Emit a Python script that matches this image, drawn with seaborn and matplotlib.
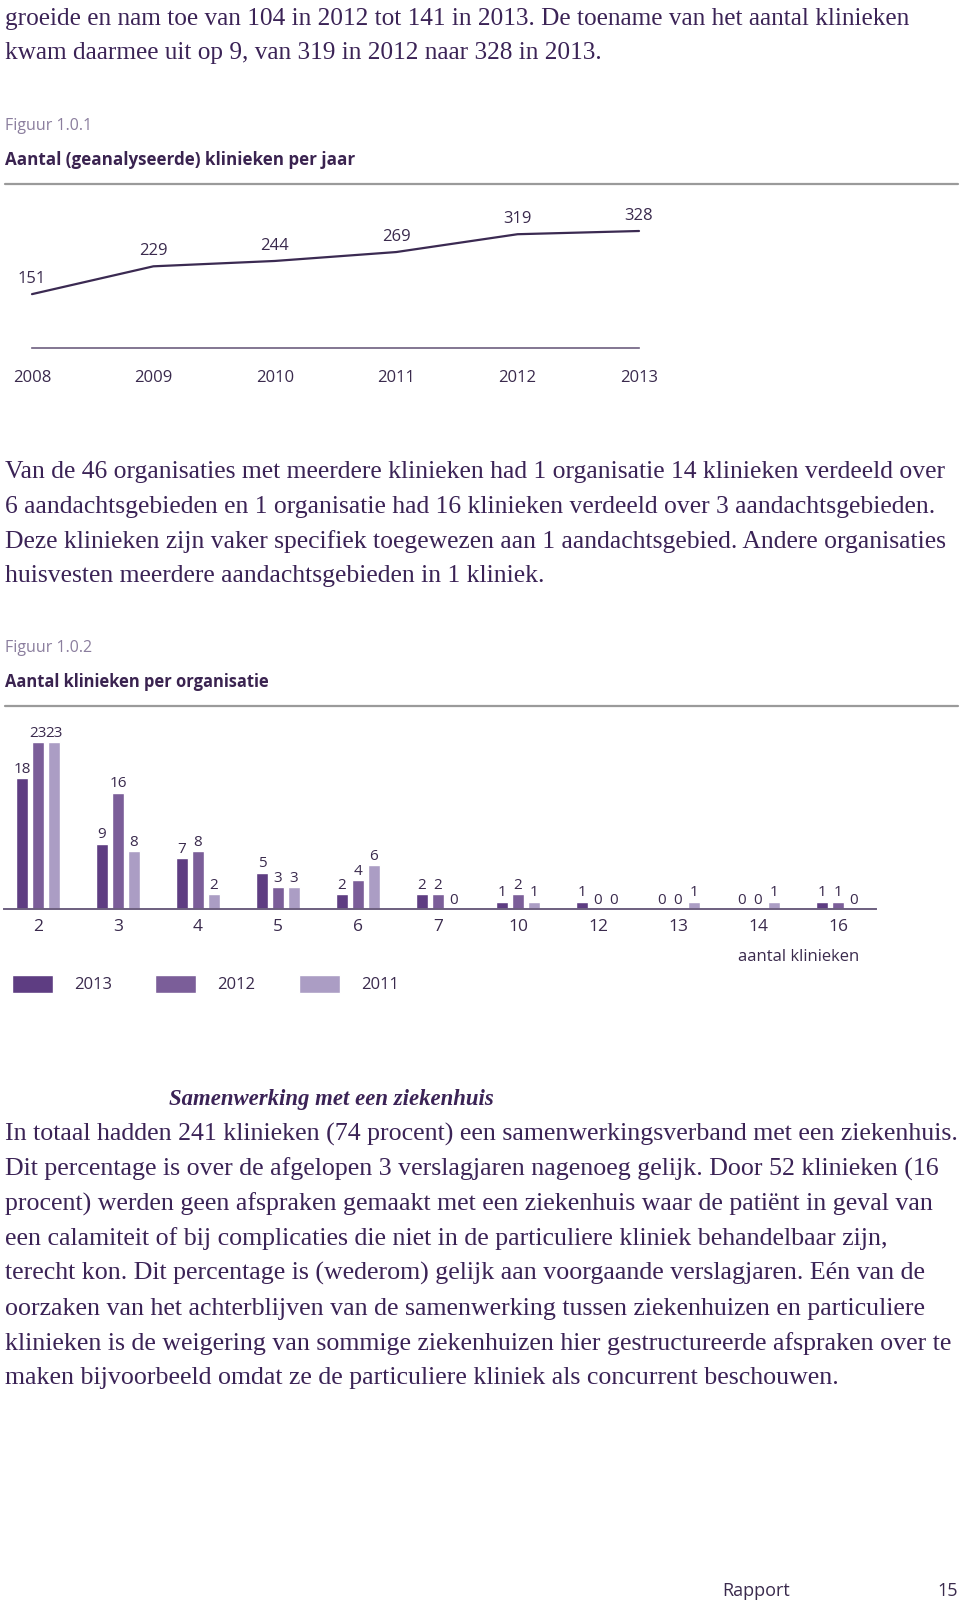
import pandas as pd
import seaborn as sns
import matplotlib.pyplot as plt
from matplotlib.lines import Line2D

# figuur 1.0.1
years = [2008, 2009, 2010, 2011, 2012, 2013]
clinics = [151, 229, 244, 269, 319, 328]

# figuur 1.0.2
cats = ['2', '3', '4', '5', '6', '7', '10', '12', '13', '14', '16']
y2013 = [18, 9, 7, 5, 2, 2, 1, 1, 0, 0, 1]
y2012 = [23, 16, 8, 3, 4, 2, 2, 0, 0, 0, 1]
y2011 = [23, 8, 2, 3, 6, 0, 1, 0, 1, 1, 0]
series = ['2013', '2012', '2011']
colors = ['#5e3d82', '#7b5e99', '#ab9dc4']

para1 = [
    'groeide en nam toe van 104 in 2012 tot 141 in 2013. De toename van het aantal klinieken',
    'kwam daarmee uit op 9, van 319 in 2012 naar 328 in 2013.',
]
para2 = [
    'Van de 46 organisaties met meerdere klinieken had 1 organisatie 14 klinieken verdeeld over',
    '6 aandachtsgebieden en 1 organisatie had 16 klinieken verdeeld over 3 aandachtsgebieden.',
    'Deze klinieken zijn vaker specifiek toegewezen aan 1 aandachtsgebied. Andere organisaties',
    'huisvesten meerdere aandachtsgebieden in 1 kliniek.',
]
para3 = [
    'In totaal hadden 241 klinieken (74 procent) een samenwerkingsverband met een ziekenhuis.',
    'Dit percentage is over de afgelopen 3 verslagjaren nagenoeg gelijk. Door 52 klinieken (16',
    'procent) werden geen afspraken gemaakt met een ziekenhuis waar de patiënt in geval van',
    'een calamiteit of bij complicaties die niet in de particuliere kliniek behandelbaar zijn,',
    'terecht kon. Dit percentage is (wederom) gelijk aan voorgaande verslagjaren. Eén van de',
    'oorzaken van het achterblijven van de samenwerking tussen ziekenhuizen en particuliere',
    'klinieken is de weigering van sommige ziekenhuizen hier gestructureerde afspraken over te',
    'maken bijvoorbeeld omdat ze de particuliere kliniek als concurrent beschouwen.',
]

W, H = 960, 1607
TXT = '#3b2356'
LAB = '#3a2a4d'
SANS = ['Open Sans', 'DejaVu Sans']
SERIF = ['Liberation Serif', 'DejaVu Serif']

sns.set_theme(style='white')
plt.rcParams['font.family'] = SANS

fig = plt.figure(figsize=(W / 100, H / 100), dpi=100)
renderer = fig.canvas.get_renderer()


def fx(x):
    return x / W


def fy(y):
    return 1 - y / H


def fit_width(txt, width_px):
    w = txt.get_window_extent(renderer).width
    size = txt.get_fontsize() * width_px / w
    txt.set_fontsize(size)
    return size


def paragraph(lines, y0, step, width_px, **kw):
    first = fig.text(fx(5), fy(y0), lines[0], va='center', color=TXT, family=SERIF, fontsize=17, **kw)
    size = fit_width(first, width_px)
    for i, line in enumerate(lines[1:], start=1):
        fig.text(fx(5), fy(y0 + i * step), line, va='center', color=TXT, family=SERIF, fontsize=size, **kw)


def heading(y, fig_no, title, title_w):
    fig.text(fx(5), fy(y), fig_no, va='center', color='#8b7e9e', fontsize=11.5)
    t = fig.text(fx(5), fy(y + 34), title, va='center', color='#3a2350', fontsize=11, fontweight='bold')
    fit_width(t, title_w)
    fig.add_artist(Line2D([fx(5), fx(958)], [fy(y + 58), fy(y + 58)], color='#9a9a9a', lw=1.6))


paragraph(para1, 19, 34.5, 902)
heading(126, 'Figuur 1.0.1', 'Aantal (geanalyseerde) klinieken per jaar', 349)

# --- lijngrafiek
ax1 = fig.add_axes([fx(32), fy(348), fx(607), 117 / H])
df_line = pd.DataFrame({'jaar': years, 'klinieken': clinics})
sns.lineplot(data=df_line, x='jaar', y='klinieken', color='#3b2a52', lw=1.6, ax=ax1)
ax1.set_xlim(2008, 2013)
ax1.set_ylim(0, 328)
for line in ax1.lines:
    line.set_clip_on(False)
for x, v in zip(years, clinics):
    ax1.annotate(str(v), (x, v), xytext=(0, 5), textcoords='offset points',
                 ha='center', va='bottom', fontsize=12, color=LAB)
ax1.set_xticks(years)
ax1.set_xticklabels([str(y) for y in years], fontsize=12, color=LAB)
ax1.tick_params(axis='x', length=0, pad=15.5)
ax1.set_yticks([])
ax1.set_xlabel('')
ax1.set_ylabel('')
sns.despine(ax=ax1, left=True)
ax1.spines['bottom'].set_color('#6d5f7f')
ax1.spines['bottom'].set_linewidth(1.2)

paragraph(para2, 472, 34.8, 942)
heading(648, 'Figuur 1.0.2', 'Aantal klinieken per organisatie', 265)

# --- staafgrafiek
df_bar = pd.DataFrame({
    'klinieken': cats * 3,
    'jaar': ['2013'] * len(cats) + ['2012'] * len(cats) + ['2011'] * len(cats),
    'aantal': y2013 + y2012 + y2011,
})
ax2 = fig.add_axes([fx(4), fy(909), fx(872), 181.5 / H])
sns.barplot(data=df_bar, x='klinieken', y='aantal', hue='jaar', hue_order=series,
            palette=colors, width=0.6, gap=0.2, saturation=1, ax=ax2)
ax2.set_xlim(-0.425, 10.475)
ax2.set_ylim(0, 25)
for c in ax2.containers:
    ax2.bar_label(c, fmt='{:.0f}', padding=1, fontsize=11, color=LAB)
ax2.tick_params(axis='x', length=0, pad=7.5, labelsize=12.5, labelcolor=LAB)
ax2.set_yticks([])
ax2.set_xlabel('')
ax2.set_ylabel('')
sns.despine(ax=ax2, left=True)
ax2.spines['bottom'].set_color('#6d5f7f')
ax2.spines['bottom'].set_linewidth(1.4)

handles, labels = ax2.get_legend_handles_labels()
ax2.get_legend().remove()
fig.legend(handles, labels, ncol=3, frameon=False, loc='center left',
           bbox_to_anchor=(fx(12), fy(984)), bbox_transform=fig.transFigure,
           fontsize=12, labelcolor=LAB, borderpad=0, borderaxespad=0,
           handlelength=2.46, handleheight=1.26, handletextpad=1.26, columnspacing=2.6)
fig.text(fx(859), fy(957), 'aantal klinieken', ha='right', va='center', fontsize=12, color=LAB)

# --- tekst onder de figuren
h = fig.text(fx(169), fy(1099), 'Samenwerking met een ziekenhuis', va='center', color=TXT,
             family=SERIF, fontsize=16, fontweight='bold', fontstyle='italic')
fit_width(h, 325)
paragraph(para3, 1134, 34.9, 953)

fig.text(fx(722), fy(1591), 'Rapport', va='center', fontsize=13, color=LAB)
fig.text(fx(958), fy(1591), '15', ha='right', va='center', fontsize=13, color=LAB)

fig.savefig('out.png', dpi=100, facecolor='white')
